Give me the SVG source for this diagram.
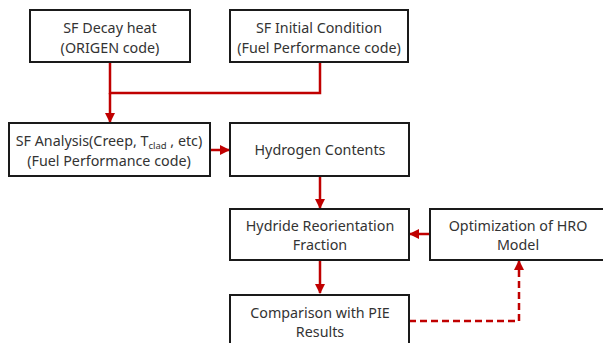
<svg xmlns="http://www.w3.org/2000/svg" width="603" height="343" viewBox="0 0 603 343">
<defs>
<style>
.box{fill:#fff;stroke:#1a1a1a;stroke-width:2}
.t{font-family:"Noto Sans","Open Sans",sans-serif;font-size:14.3px;fill:#333;text-anchor:middle}
.ln{fill:none;stroke:#c00000;stroke-width:2.5}
.dash{stroke-dasharray:7 4}
</style>
<marker id="ah" viewBox="0 0 10 10" refX="9" refY="5" markerWidth="4" markerHeight="4" orient="auto" markerUnits="strokeWidth">
<path d="M0,0 L10,5 L0,10 z" fill="#c00000"/>
</marker>
</defs>
<rect width="603" height="343" fill="#fff"/>
<g id="connectors">
<path class="ln" d="M110,62 V93 H320 V62"/>
<path class="ln" d="M110,93 V122" marker-end="url(#ah)"/>
<path class="ln" d="M210,150 H229" marker-end="url(#ah)"/>
<path class="ln" d="M320,176 V208" marker-end="url(#ah)"/>
<path class="ln" d="M430,234 H410" marker-end="url(#ah)"/>
<path class="ln" d="M320,260 V293" marker-end="url(#ah)"/>
<path class="ln dash" d="M409,321 H519 V261" marker-end="url(#ah)"/>
</g>
<g id="n1"><rect class="box" x="30" y="10" width="160" height="52"/>
<text class="t" x="110" y="33">SF Decay heat</text><text class="t" x="110" y="53">(ORIGEN code)</text></g>
<g id="n2"><rect class="box" x="230" y="10" width="178" height="52"/>
<text class="t" x="319" y="33">SF Initial Condition</text><text class="t" x="319" y="53">(Fuel Performance code)</text></g>
<g id="n3"><rect class="box" x="9" y="123" width="201" height="53"/>
<text class="t" x="109" y="146">SF Analysis(Creep, T<tspan font-size="9.5" dy="3">clad</tspan><tspan dy="-3"> , etc)</tspan></text><text class="t" x="109" y="166">(Fuel Performance code)</text></g>
<g id="n4"><rect class="box" x="230" y="123" width="179" height="53"/>
<text class="t" x="320" y="155">Hydrogen Contents</text></g>
<g id="n5"><rect class="box" x="230" y="209" width="179" height="51"/>
<text class="t" x="320" y="231">Hydride Reorientation</text><text class="t" x="320" y="250">Fraction</text></g>
<g id="n6"><rect class="box" x="430" y="209" width="180" height="51"/>
<text class="t" x="518" y="231">Optimization of HRO</text><text class="t" x="518" y="250">Model</text></g>
<g id="n7"><rect class="box" x="230" y="295" width="179" height="55"/>
<text class="t" x="320" y="318">Comparison with PIE</text><text class="t" x="320" y="337">Results</text></g>
</svg>
